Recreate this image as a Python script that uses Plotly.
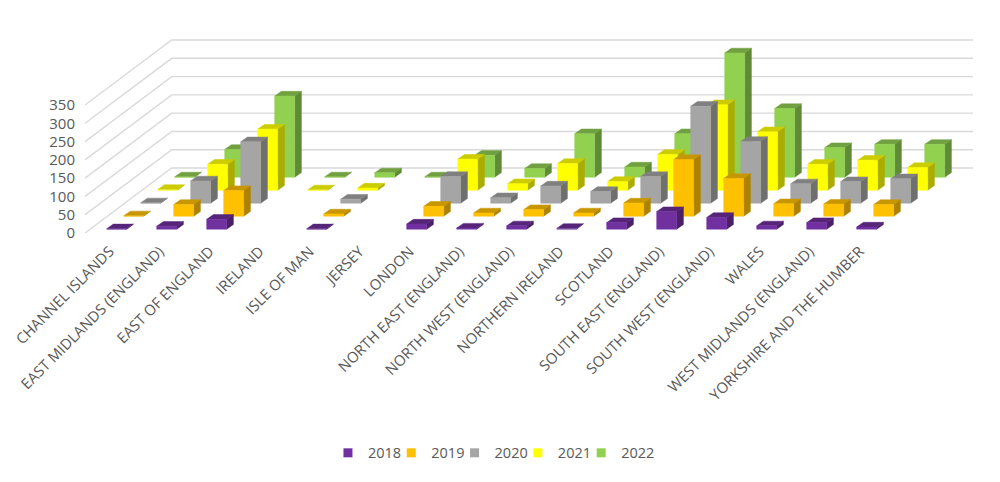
import plotly.graph_objects as go

categories = ["CHANNEL ISLANDS", "EAST MIDLANDS (ENGLAND)", "EAST OF ENGLAND", "IRELAND", "ISLE OF MAN", "JERSEY",
              "LONDON", "NORTH EAST (ENGLAND)", "NORTH WEST (ENGLAND)", "NORTHERN IRELAND", "SCOTLAND",
              "SOUTH EAST (ENGLAND)", "SOUTH WEST (ENGLAND)", "WALES", "WEST MIDLANDS (ENGLAND)", "YORKSHIRE AND THE HUMBER"]
years = ["2018", "2019", "2020", "2021", "2022"]
v2018 = [1, 8, 27, None, 1, None, 14, 3, 9, 2, 18, 48, 32, 9, 18, 6]
v2019 = [1, 32, 70, None, 6, None, 27, 9, 18, 9, 36, 155, 103, 34, 33, 32]
v2020 = [1, 61, 168, None, 11, None, 73, 15, 47, 32, 73, 265, 169, 53, 59, 67]
v2021 = [2, 71, 167, 1, 6, None, 85, 18, 73, 24, 98, 234, 160, 71, 82, 62]
v2022 = [1, 76, 222, 1, 12, 1, 60, 24, 119, 28, 119, 340, 188, 81, 90, 90]
series = [v2018, v2019, v2020, v2021, v2022]
y_ticks = [0, 50, 100, 150, 200, 250, 300, 350]

front_colors = ["#7030A0", "#FFC000", "#A5A5A5", "#FFFF00", "#92D050"]
top_colors = ["#562579", "#C79600", "#808080", "#CCCC00", "#70A040"]
side_colors = ["#4B2069", "#AD8200", "#6F6F6F", "#ABAB00", "#5F8A36"]

# oblique projection, in axis units
BAR_W = 0.40
ROW_DX, ROW_DY = 0.34, 35.5
BASE_DY = 10.5
BAR_DX, BAR_DY = 0.134, 12.8
WALL_DX, WALL_DY = 1.734, 177.7
X_MIN, X_MAX = -0.634, 17.126
Y_MAX = 552.4
LABEL_SHIFT = -0.14

fig = go.Figure()

for v in y_ticks:
    fig.add_trace(go.Scatter(
        x=[X_MIN, X_MIN + WALL_DX, X_MAX], y=[v, v + WALL_DY, v + WALL_DY],
        mode="lines", line=dict(color="#D9D9D9", width=1.4), showlegend=False, hoverinfo="skip"))


def poly(store, pts):
    for px, py in pts + [pts[0]]:
        store[0].append(px)
        store[1].append(py)
    store[0].append(None)
    store[1].append(None)


for j in reversed(range(5)):
    fx, fy, tx, ty, sx, sy = [], [], [], [], [], []
    for i, val in enumerate(series[j]):
        if val is None:
            continue
        x0 = i - BAR_W / 2 + ROW_DX * j
        x1 = x0 + BAR_W
        y0 = BASE_DY + ROW_DY * j
        y1 = y0 + val
        poly((fx, fy), [(x0, y0), (x1, y0), (x1, y1), (x0, y1)])
        poly((sx, sy), [(x1, y0), (x1 + BAR_DX, y0 + BAR_DY), (x1 + BAR_DX, y1 + BAR_DY), (x1, y1)])
        poly((tx, ty), [(x0, y1), (x1, y1), (x1 + BAR_DX, y1 + BAR_DY), (x0 + BAR_DX, y1 + BAR_DY)])
    for xs, ys, col in ((sx, sy, side_colors[j]), (tx, ty, top_colors[j]), (fx, fy, front_colors[j])):
        fig.add_trace(go.Scatter(x=xs, y=ys, mode="lines", fill="toself", fillcolor=col,
                                 line=dict(color=col, width=0.5), showlegend=False, hoverinfo="skip"))

for j, year in enumerate(years):
    fig.add_trace(go.Scatter(x=[None], y=[None], mode="markers", name=year,
                             marker=dict(symbol="square", size=9, color=front_colors[j])))

fig.update_layout(
    width=1000, height=482,
    margin=dict(l=77, r=35, t=23, b=257, autoexpand=False),
    paper_bgcolor="white", plot_bgcolor="white",
    font=dict(family="Open Sans", color="#595959", size=14),
    xaxis=dict(range=[X_MIN, X_MAX], tickmode="array", tickvals=[i + LABEL_SHIFT for i in range(16)],
               ticktext=categories,
               tickangle=-45, showgrid=False, zeroline=False, showline=False, ticks="",
               ticklabelstandoff=6, tickfont=dict(size=14.8, color="#595959")),
    yaxis=dict(range=[0, Y_MAX], tickmode="array", tickvals=y_ticks, showgrid=False, zeroline=False,
               showline=False, ticks="", ticklabelstandoff=9, tickfont=dict(size=15, color="#595959")),
    legend=dict(orientation="h", xanchor="left", x=0.2905, yanchor="middle", yref="container", y=0.077,
                indentation=-15, entrywidth=33.3, entrywidthmode="pixels",
                itemclick=False, itemdoubleclick=False,
                font=dict(size=14.5, color="#595959")),
    showlegend=True,
)
fig.write_html("out.html")
